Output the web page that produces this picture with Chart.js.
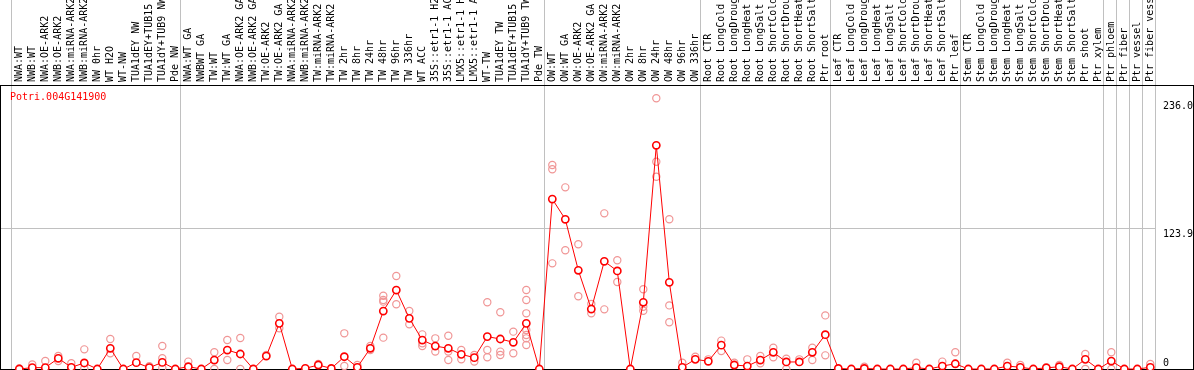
<!DOCTYPE html>
<html><head><meta charset="utf-8">
<script src="https://cdn.jsdelivr.net/npm/chart.js@4/dist/chart.umd.min.js"></script>
<style>html,body{margin:0;padding:0;background:#fff;overflow:hidden;}#wrap{width:1194px;height:370px;}</style>
</head><body><div id="wrap"><canvas id="c" width="1194" height="370"></canvas></div>
<script>
const geneId = 'Potri.004G141900';
const categories = [
 'NWA:WT','NWB:WT','NWA:OE-ARK2','NWB:OE-ARK2','NWA:miRNA-ARK2','NWB:miRNA-ARK2','NW 0hr','WT H2O','WT-NW','TUA1dEY NW','TUA1dEY+TUB15 NW','TUA1dY+TUB9 NW','Pde NW',
 'NWA:WT GA','NWBWT GA','TW:WT','TW:WT GA','NWA:OE-ARK2 GA','NWB:OE-ARK2 GA','TW:OE-ARK2','TW:OE-ARK2 GA','NWA:miRNA-ARK2 GA','NWB:miRNA-ARK2 GA','TW:miRNA-ARK2','TW:miRNA-ARK2 GA',
 'TW 2hr','TW 8hr','TW 24hr','TW 48hr','TW 96hr','TW 336hr','WT ACC','35S::etr1-1 H2O','35S::etr1-1 ACC','LMX5::etr1-1 H2O','LMX5::etr1-1 ACC','WT-TW','TUA1dEY TW','TUA1dEY+TUB15 TW','TUA1dY+TUB9 TW','Pde TW',
 'OW:WT','OW:WT GA','OW:OE-ARK2','OW:OE-ARK2 GA','OW:miRNA-ARK2','OW:miRNA-ARK2 GA','OW 2hr','OW 8hr','OW 24hr','OW 48hr','OW 96hr','OW 336hr',
 'Root CTR','Root LongCold','Root LongDrought','Root LongHeat','Root LongSalt','Root ShortCold','Root ShortDrought','Root ShortHeat','Root ShortSalt','Ptr root',
 'Leaf CTR','Leaf LongCold','Leaf LongDrought','Leaf LongHeat','Leaf LongSalt','Leaf ShortCold','Leaf ShortDrought','Leaf ShortHeat','Leaf ShortSalt','Ptr leaf',
 'Stem CTR','Stem LongCold','Stem LongDrought','Stem LongHeat','Stem LongSalt','Stem ShortCold','Stem ShortDrought','Stem ShortHeat','Stem ShortSalt','Ptr shoot',
 'Ptr xylem','Ptr phloem','Ptr fiber','Ptr vessel','Ptr fiber vessel'
];
const meanValues = [
 0,1.2,1.2,9.4,1.5,5.3,0,18.2,0,5.6,1.2,5.8,0,
 2,0,7.9,16.7,13.2,0,11.4,40.2,0,0.6,3.5,0.5,
 10.8,1.5,18.2,51,69.5,44.6,25.5,20.2,18.2,12.9,10,28.5,26.4,23.5,40.2,0,
 149.6,131.8,86.9,52.8,94.8,86.3,0,58.7,196.9,76.3,1.5,8.5,
 6.8,21,3.5,2.6,7.9,14.7,6.2,6.2,14.7,30.2,
 0.5,0,0.5,0,0,0,1.2,0,2.6,4.6,
 0,0,0,2.6,1.5,0,1,2,0,8.5,
 0,7,0,0,1.5
];
// [category index, replicate value]
const replicates = [
 [0,0.5],[1,4],[2,7],[3,11.4],[3,7],[4,5],[5,17.3],[5,0.5],[7,26.4],[7,13.8],[9,11.4],[10,2.5],[11,20.2],[11,9.4],[11,1],
 [13,6.5],[15,14.7],[15,0],[16,25.5],[16,7.9],[17,27.3],[17,0],[19,12.3],[20,46],[20,35.8],[23,4.5],
 [25,31.4],[25,2.6],[26,3.5],[27,20.2],[27,16.7],[28,64.5],[28,60.7],[28,59.3],[28,27.6],[29,81.9],[29,57],[30,51],[30,39.3],
 [31,30.5],[31,22.6],[31,20.2],[32,27],[32,15.3],[33,29.3],[33,15.3],[33,7.9],[34,16.7],[34,8.5],[35,12.3],[35,6.5],
 [36,58.7],[36,16.7],[36,10.3],[37,49.9],[37,15.3],[37,12.3],[38,32.9],[38,13.8],
 [39,69.5],[39,60.7],[39,49],[39,34.3],[39,29.9],[39,27],[39,21.1],
 [41,179.6],[41,175.8],[41,93],[42,159.9],[42,104.5],[43,109.8],[43,64],[44,57.2],[44,49],[45,137],[45,52.5],[46,95.7],[46,76.6],
 [48,70.2],[48,54.8],[48,51.3],[49,238.3],[49,182.5],[49,169.3],[50,131.8],[50,56],[50,41.1],[51,5.6],[52,10.8],
 [53,8.5],[54,25],[54,15.8],[55,5.5],[56,8.5],[57,11.4],[57,5],[58,18.8],[58,10.3],[59,9.1],[59,0],[60,8.5],[61,18.8],[61,7.9],[62,47.2],[62,12],
 [65,2],[69,5.6],[71,6.5],[72,14.7],[76,5.6],[77,3.5],[79,1.5],[80,3.5],[82,13.2],[82,0],[84,14.7],[84,0],[87,4.4]
];
const yTickValues = [0, 123.9, 236.0];
const yTickLabels = ['0', '123.9', '236.0'];
const groupLastIndex = [-1, 12, 40, 52, 62, 72, 83, 84, 85, 86, 87];

const X_MIN = -1.4846, X_MAX = 87.438, Y_MAX = 250;
const monoFont = {family: "'DejaVu Sans Mono', monospace", size: 10};
const noPad = s => { s.paddingLeft = 0; s.paddingRight = 0; s.paddingTop = 0; s.paddingBottom = 0; };

const framePlugin = {
  id: 'frame',
  beforeDatasetsDraw(chart) {
    const c = chart.ctx;
    c.save();
    c.strokeStyle = '#000';
    c.lineWidth = 1;
    c.strokeRect(0.5, chart.chartArea.top + 0.5, chart.width - 1, chart.chartArea.bottom - chart.chartArea.top);
    c.restore();
  },
  afterDraw(chart) {
    const c = chart.ctx;
    c.save();
    c.fillStyle = '#ff0000';
    c.font = "10px 'DejaVu Sans Mono', monospace";
    c.textBaseline = 'middle';
    c.fillText(geneId, 10, chart.chartArea.top + 12);
    c.restore();
  }
};

new Chart(document.getElementById('c'), {
  type: 'line',
  data: {
    datasets: [
      {
        label: 'mean',
        data: meanValues.map((v, i) => ({x: i, y: v})),
        borderColor: '#ff0000', borderWidth: 1, tension: 0,
        pointRadius: 3.6, pointBorderWidth: 1.6,
        pointBorderColor: '#ff0000', pointBackgroundColor: '#ffffff',
        clip: false, order: 0
      },
      {
        label: 'replicates',
        type: 'scatter',
        data: replicates.map(([i, v]) => ({x: i, y: v})),
        showLine: false,
        pointRadius: 3.6, pointBorderWidth: 1.2,
        pointBorderColor: '#f09696', pointBackgroundColor: 'rgba(0,0,0,0)',
        clip: false, order: 1
      }
    ]
  },
  options: {
    responsive: false, animation: false, devicePixelRatio: 1,
    layout: {autoPadding: false, padding: {left: 0, right: 0, top: 0, bottom: 1}},
    plugins: {legend: {display: false}, tooltip: {enabled: false}, title: {display: false}},
    scales: {
      x: {
        type: 'linear', position: 'top', min: X_MIN, max: X_MAX, weight: 1,
        afterBuildTicks: s => { s.ticks = categories.map((_, i) => ({value: i})); },
        afterFit: s => { s.height = 85; noPad(s); },
        ticks: {autoSkip: false, maxRotation: 90, minRotation: 90, padding: 3, labelOffset: 12, color: '#000', font: monoFont,
          callback: v => categories[Math.round(v)] ?? ''},
        grid: {display: false, drawTicks: false},
        border: {display: false}
      },
      xg: {
        type: 'linear', position: 'top', min: X_MIN, max: X_MAX, weight: 0,
        afterBuildTicks: s => { s.ticks = groupLastIndex.map(e => ({value: e + 0.38})); },
        afterFit: s => { s.height = 0; noPad(s); },
        ticks: {display: false},
        grid: {color: '#c0c0c0', lineWidth: 1, drawTicks: true, tickLength: 85},
        border: {display: false}
      },
      y: {
        type: 'linear', position: 'right', min: 0, max: Y_MAX,
        afterBuildTicks: s => { s.ticks = yTickValues.map(v => ({value: v})); },
        afterFit: s => { s.width = 38; noPad(s); },
        ticks: {padding: 7, color: '#000', font: monoFont,
          callback: (v) => { const i = yTickValues.indexOf(v); const t = yTickLabels[i]; return i === 0 ? [t, ''] : ['', t]; }},
        grid: {drawTicks: false, color: ctx => (ctx.tick && ctx.tick.value === 123.9) ? '#c0c0c0' : 'rgba(0,0,0,0)'},
        border: {display: false}
      }
    }
  },
  plugins: [framePlugin]
});
</script>
</body></html>
